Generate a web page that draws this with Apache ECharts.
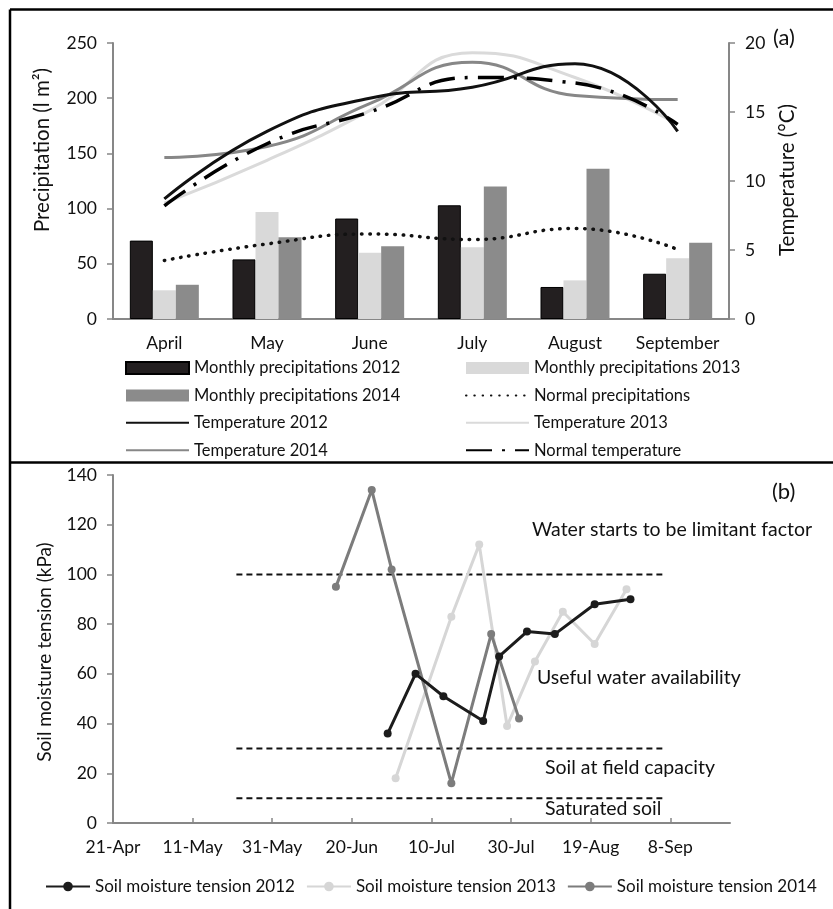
<!DOCTYPE html>
<html>
<head>
<meta charset="utf-8">
<script src="https://cdn.jsdelivr.net/npm/echarts@6/dist/echarts.min.js"></script>
<style>
  html, body { margin: 0; padding: 0; background: #fff; }
  #chart { width: 833px; height: 909px; }
</style>
</head>
<body>
<div id="chart"></div>
<script>
// (a) Monthly climate, April–September
const months = ['April', 'May', 'June', 'July', 'August', 'September'];
const precip2012 = [71, 54, 91, 103, 29, 41];
const precip2013 = [26, 97, 60, 65, 35, 55];
const precip2014 = [31, 74, 66, 120, 136, 69];
const precipNormal = [53, 68, 77, 72, 82, 63];
const temp2012 = [8.7, 13.6, 16.0, 16.8, 18.5, 13.6];
const temp2013 = [8.4, 11.5, 15.1, 19.3, 17.5, 14.1];
const temp2014 = [11.7, 12.5, 15.6, 18.6, 16.2, 15.9];
const tempNormal = [8.2, 12.7, 15.0, 17.5, 17.1, 14.1];

// (b) Soil moisture tension readings (kPa)
const tension2012Dates = ['29-Jun', '6-Jul', '13-Jul', '23-Jul', '27-Jul', '3-Aug', '10-Aug', '20-Aug', '29-Aug'];
const tension2012 = [36, 60, 51, 41, 67, 77, 76, 88, 90];
const tension2013Dates = ['1-Jul', '15-Jul', '22-Jul', '29-Jul', '5-Aug', '12-Aug', '20-Aug', '28-Aug'];
const tension2013 = [18, 83, 112, 39, 65, 85, 72, 94];
const tension2014Dates = ['16-Jun', '25-Jun', '30-Jun', '15-Jul', '25-Jul', '1-Aug'];
const tension2014 = [95, 134, 102, 16, 76, 42];
const thresholdDates = ['22-May', '6-Sep'];
const thresholdLevels = [100, 30, 10];
const dateTicks = ['21-Apr', '11-May', '31-May', '20-Jun', '10-Jul', '30-Jul', '19-Aug', '8-Sep'];

const MONTHS = { Jan: 0, Feb: 1, Mar: 2, Apr: 3, May: 4, Jun: 5, Jul: 6, Aug: 7, Sep: 8, Oct: 9, Nov: 10, Dec: 11 };
// days elapsed since 21 April (season start), same for every year
function dayOffset(label) {
  const [d, m] = label.split('-');
  return Math.round((Date.UTC(2013, MONTHS[m], +d) - Date.UTC(2013, 3, 21)) / 86400000);
}
const pairs = (dates, vals) => dates.map((d, i) => [dayOffset(d), vals[i]]);
const tickOffsets = dateTicks.map(dayOffset);

const FONT = 'Lato';
const axisGrey = '#878787';
const txt = '#111';

const barLegend = n => ({ name: n, icon: 'rect' });
// line-only legend entries: hide the marker drawn in the middle of the line
const lineLegend = n => ({ name: n, itemStyle: { opacity: 0 } });

const tickLabel = { fontSize: 17.5, color: txt, fontFamily: FONT };
const lineAxis = { show: true, lineStyle: { color: axisGrey, width: 2 } };
const outTick = { show: true, length: 6, lineStyle: { color: axisGrey, width: 1.5 } };

const option = {
  animation: false,
  textStyle: { fontFamily: FONT },
  grid: [
    { left: 113, right: 104, top: 43, height: 276 },
    { left: 113, right: 103, top: 475, height: 348 }
  ],
  xAxis: [
    {
      gridIndex: 0, type: 'category', data: months,
      axisLine: lineAxis,
      axisTick: { show: false },
      axisLabel: Object.assign({ margin: 15, interval: 0 }, tickLabel)
    },
    {
      gridIndex: 1, type: 'value', min: 0, max: 155,
      axisLine: lineAxis,
      axisTick: { inside: true, length: 5, customValues: tickOffsets, lineStyle: { color: axisGrey, width: 1.5 } },
      axisLabel: Object.assign({
        customValues: tickOffsets, margin: 15,
        formatter: v => dateTicks[tickOffsets.indexOf(v)] || ''
      }, tickLabel),
      splitLine: { show: false }
    }
  ],
  yAxis: [
    {
      gridIndex: 0, type: 'value', min: 0, max: 250, interval: 50,
      axisLine: lineAxis, axisTick: outTick,
      axisLabel: Object.assign({ margin: 16 }, tickLabel),
      splitLine: { show: false }
    },
    {
      gridIndex: 0, type: 'value', position: 'right', min: 0, max: 20, interval: 5,
      axisLine: lineAxis, axisTick: outTick,
      axisLabel: Object.assign({ margin: 16 }, tickLabel),
      splitLine: { show: false }
    },
    {
      gridIndex: 1, type: 'value', min: 0, max: 140, interval: 20,
      axisLine: lineAxis, axisTick: outTick,
      axisLabel: Object.assign({ margin: 16 }, tickLabel),
      splitLine: { show: false }
    }
  ],
  legend: [
    {
      orient: 'vertical', left: 125, top: 359.5, itemWidth: 63, itemHeight: 12, itemGap: 10.4,
      padding: 0, selectedMode: false,
      textStyle: { fontSize: 16.5, color: txt, fontFamily: FONT },
      data: [barLegend('Monthly precipitations 2012'), barLegend('Monthly precipitations 2014'),
             lineLegend('Temperature 2012'), lineLegend('Temperature 2014')]
    },
    {
      orient: 'vertical', left: 465, top: 359.5, itemWidth: 63, itemHeight: 12, itemGap: 10.4,
      padding: 0, selectedMode: false,
      textStyle: { fontSize: 16.5, color: txt, fontFamily: FONT },
      data: [barLegend('Monthly precipitations 2013'), lineLegend('Normal precipitations'),
             lineLegend('Temperature 2013'), lineLegend('Normal temperature')]
    },
    {
      orient: 'horizontal', left: 45, top: 878, itemWidth: 44, itemHeight: 12, itemGap: 11,
      padding: 0, selectedMode: false,
      textStyle: { fontSize: 17, color: txt, fontFamily: FONT },
      data: ['Soil moisture tension 2012', 'Soil moisture tension 2013', 'Soil moisture tension 2014']
    }
  ],
  series: [
    {
      name: 'Monthly precipitations 2012', type: 'bar', xAxisIndex: 0, yAxisIndex: 0,
      data: precip2012, barWidth: 23, barGap: '0%',
      itemStyle: { color: '#231f20', borderColor: '#000', borderWidth: 1 }
    },
    {
      name: 'Monthly precipitations 2013', type: 'bar', xAxisIndex: 0, yAxisIndex: 0,
      data: precip2013, barWidth: 23, barGap: '0%',
      itemStyle: { color: '#d9d9d9' }
    },
    {
      name: 'Monthly precipitations 2014', type: 'bar', xAxisIndex: 0, yAxisIndex: 0,
      data: precip2014, barWidth: 23, barGap: '0%',
      itemStyle: { color: '#8b8b8b' }
    },
    {
      name: 'Normal precipitations', type: 'line', xAxisIndex: 0, yAxisIndex: 0,
      data: precipNormal, smooth: 0.5, symbol: 'none',
      lineStyle: { color: '#111', width: 3.5, type: [0.5, 7.8], cap: 'round' },
      itemStyle: { color: '#111' }
    },
    {
      name: 'Temperature 2012', type: 'line', xAxisIndex: 0, yAxisIndex: 1,
      data: temp2012, smooth: 0.5, symbol: 'none', z: 4,
      lineStyle: { color: '#111', width: 3 }, itemStyle: { color: '#111' }
    },
    {
      name: 'Temperature 2013', type: 'line', xAxisIndex: 0, yAxisIndex: 1,
      data: temp2013, smooth: 0.5, symbol: 'none', z: 3,
      lineStyle: { color: '#dadada', width: 3 }, itemStyle: { color: '#dadada' }
    },
    {
      name: 'Temperature 2014', type: 'line', xAxisIndex: 0, yAxisIndex: 1,
      data: temp2014, smooth: 0.5, symbol: 'none', z: 3,
      lineStyle: { color: '#878787', width: 3 }, itemStyle: { color: '#878787' }
    },
    {
      name: 'Normal temperature', type: 'line', xAxisIndex: 0, yAxisIndex: 1,
      data: tempNormal, smooth: 0.5, symbol: 'none', z: 5,
      lineStyle: { color: '#000', width: 3.5, type: [26, 10, 3, 10] }, itemStyle: { color: '#000' }
    },
    // threshold levels in panel (b)
    ...thresholdLevels.map(level => ({
      name: 'threshold ' + level, type: 'line', xAxisIndex: 1, yAxisIndex: 2,
      data: thresholdDates.map(d => [dayOffset(d), level]),
      symbol: 'none', silent: true, z: 1,
      lineStyle: { color: '#111', width: 2, type: [6, 4] }
    })),
    {
      name: 'Soil moisture tension 2012', type: 'line', xAxisIndex: 1, yAxisIndex: 2,
      data: pairs(tension2012Dates, tension2012), symbol: 'circle', symbolSize: 8, z: 4,
      lineStyle: { color: '#1c1c1c', width: 3 }, itemStyle: { color: '#1c1c1c' }
    },
    {
      name: 'Soil moisture tension 2013', type: 'line', xAxisIndex: 1, yAxisIndex: 2,
      data: pairs(tension2013Dates, tension2013), symbol: 'circle', symbolSize: 8, z: 2,
      lineStyle: { color: '#d6d6d6', width: 3 }, itemStyle: { color: '#d6d6d6' }
    },
    {
      name: 'Soil moisture tension 2014', type: 'line', xAxisIndex: 1, yAxisIndex: 2,
      data: pairs(tension2014Dates, tension2014), symbol: 'circle', symbolSize: 8, z: 3,
      lineStyle: { color: '#7c7c7c', width: 3 }, itemStyle: { color: '#7c7c7c' }
    }
  ],
  graphic: [
    // figure frame and panel separator
    { type: 'line', shape: { x1: 10, y1: 9.5, x2: 833, y2: 9.5 }, style: { stroke: '#000', lineWidth: 2.5 } },
    { type: 'line', shape: { x1: 10, y1: 9.5, x2: 10, y2: 909 }, style: { stroke: '#000', lineWidth: 2.5 } },
    { type: 'line', shape: { x1: 10, y1: 462.5, x2: 833, y2: 462.5 }, style: { stroke: '#000', lineWidth: 2.5 } },
    // panel tags
    { type: 'text', x: 773, y: 38, style: { text: '(a)', font: '22px ' + FONT, fill: txt, textVerticalAlign: 'middle' } },
    { type: 'text', x: 772, y: 492, style: { text: '(b)', font: '22px ' + FONT, fill: txt, textVerticalAlign: 'middle' } },
    // axis titles
    { type: 'text', x: 42, y: 150, rotation: Math.PI / 2,
      style: { text: 'Precipitation (l m²)', font: '20.5px ' + FONT, fill: txt, textAlign: 'center', textVerticalAlign: 'middle' } },
    { type: 'text', x: 787, y: 180, rotation: Math.PI / 2,
      style: { text: 'Temperature (°C)', font: '20.5px ' + FONT, fill: txt, textAlign: 'center', textVerticalAlign: 'middle' } },
    { type: 'text', x: 45, y: 652, rotation: Math.PI / 2,
      style: { text: 'Soil moisture tension (kPa)', font: '19px ' + FONT, fill: txt, textAlign: 'center', textVerticalAlign: 'middle' } },
    // zone annotations
    { type: 'text', x: 532, y: 530, style: { text: 'Water starts to be limitant factor', font: '19.5px ' + FONT, fill: txt, textVerticalAlign: 'middle' } },
    { type: 'text', x: 537, y: 678, style: { text: 'Useful water availability', font: '19.5px ' + FONT, fill: txt, textVerticalAlign: 'middle' } },
    { type: 'text', x: 545, y: 768, style: { text: 'Soil at field capacity', font: '19.5px ' + FONT, fill: txt, textVerticalAlign: 'middle' } },
    { type: 'text', x: 545, y: 809, style: { text: 'Saturated soil', font: '19.5px ' + FONT, fill: txt, textVerticalAlign: 'middle' } }
  ]
};

const chart = echarts.init(document.getElementById('chart'), null, { renderer: 'canvas' });
chart.setOption(option);
</script>
</body>
</html>
